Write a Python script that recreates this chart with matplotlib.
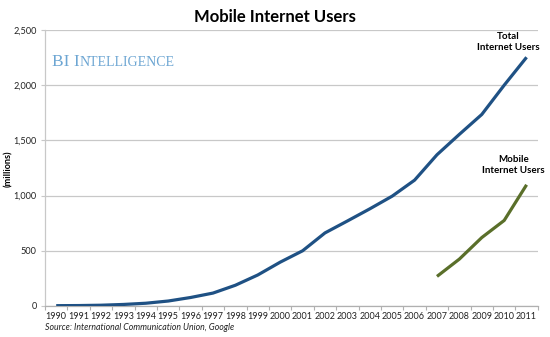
import matplotlib.pyplot as plt
import numpy as np

plt.rcParams['font.family'] = ['Lato', 'DejaVu Sans']

years = list(range(1990, 2012))
total_users = [3, 4, 7, 14, 25, 45, 77, 117, 188, 281, 397, 500, 662, 770, 880, 995, 1140, 1370, 1555, 1735, 2000, 2253]
mobile_years = [2007, 2008, 2009, 2010, 2011]
mobile_users = [268, 425, 620, 775, 1098]

blue = '#1f5184'
green = '#5a6f2a'

fig = plt.figure(figsize=(5.5, 3.37), dpi=100)
ax = fig.add_axes([0.0818, 0.092, 0.896, 0.819])

x_total = np.arange(len(years))
x_mobile = [years.index(y) for y in mobile_years]
ax.plot(x_total, total_users, color=blue, lw=2.3, solid_capstyle='butt', zorder=3)
ax.plot(x_mobile, mobile_users, color=green, lw=2.3, solid_capstyle='butt', zorder=3)

ax.set_xlim(-0.5, len(years) - 0.5)
ax.set_ylim(0, 2500)
ax.set_yticks(range(0, 2501, 500))
ax.set_yticklabels([f'{v:,}' for v in range(0, 2501, 500)], fontsize=6.6, color='#222222')
ax.yaxis.grid(True, color='#c8c8c8', lw=0.9)
ax.set_axisbelow(True)

# years sit between the category tick marks
ax.set_xticks(np.arange(-0.5, len(years)), minor=False)
ax.set_xticklabels([])
ax.set_xticks(x_total, minor=True)
ax.set_xticklabels([str(y) for y in years], minor=True, fontsize=6.5, color='#222222')
ax.tick_params(axis='x', which='major', length=3, color='#b0b0b0', width=0.8)
ax.tick_params(axis='x', which='minor', length=0, pad=4)
ax.tick_params(axis='y', length=3, color='#c8c8c8', width=0.8, pad=3)

for side in ('top', 'right'):
    ax.spines[side].set_visible(False)
ax.spines['left'].set_color('#c8c8c8')
ax.spines['bottom'].set_color('#b0b0b0')
ax.spines['left'].set_linewidth(0.9)
ax.spines['bottom'].set_linewidth(0.9)

fig.text(0.015, 0.50, '(millions)', rotation=90, ha='center', va='center',
         fontsize=6.6, fontweight='bold')

fig.text(0.5, 0.95, 'Mobile Internet Users', ha='center', va='center',
         fontsize=12, fontweight='bold')

ax.text(x_total[-1] - 0.8, 2390, 'Total\nInternet Users', ha='center', va='center',
        fontsize=7, fontweight='bold', linespacing=1.3)
ax.text(x_total[-1] - 0.6, 1280, 'Mobile\nInternet Users', ha='center', va='center',
        fontsize=7, fontweight='bold', linespacing=1.3)

fig.text(0.0818, 0.02, 'Source: International Communication Union, Google',
         fontsize=6.3, style='italic', color='#222222')

# small-caps style watermark
wm_color = '#6da6d3'
fig.canvas.draw()
renderer = fig.canvas.get_renderer()
x0, y0 = 0.095, 0.805
parts = [('BI I', 12.5), ('NTELLIGENCE', 10)]
for txt, size in parts:
    t = fig.text(x0, y0, txt, fontsize=size, family='Liberation Serif', color=wm_color, va='baseline')
    bb = t.get_window_extent(renderer)
    x0 = bb.x1 / fig.bbox.width

fig.savefig('out.png', dpi=100)
